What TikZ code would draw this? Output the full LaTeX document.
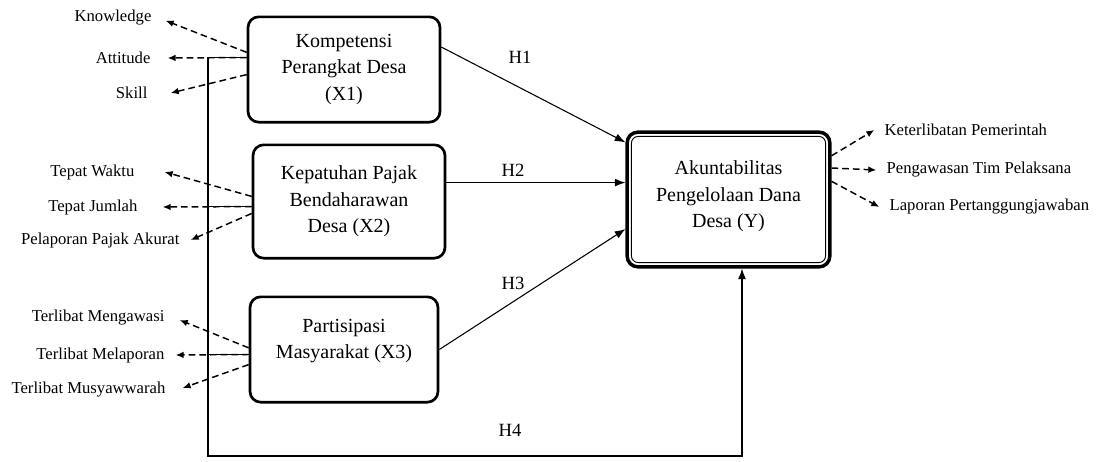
\documentclass[tikz,border=0pt]{standalone}
\usepackage{fontspec}
\setmainfont{Liberation Serif}
\usetikzlibrary{arrows.meta,calc}

\begin{document}
\begin{tikzpicture}[x=0.75pt,y=-0.75pt,
    varbox/.style={draw, line width=2pt, rounded corners=8pt, align=center, font=\fontsize{15}{20}\selectfont},
    indtext/.style={inner sep=1pt, font=\fontsize{12.5}{15}\selectfont},
    ind/.style={dash pattern=on 5pt off 3pt, line width=1.1pt, -{Latex[length=6pt,width=5pt]}},
    hyp/.style={line width=0.8pt, -{Latex[length=8pt,width=6pt]}},
    hlabel/.style={font=\fontsize{14}{16}\selectfont}]

    \useasboundingbox (0,0) rectangle (1098,461);

    % variables
    \draw (344,69.5)  node [varbox, minimum width=144pt, minimum height=79pt] (kom) {Kompetensi\\Perangkat Desa\\(X1)};
    \draw (349,201.5) node [varbox, minimum width=144pt, minimum height=85pt] (kep) {Kepatuhan Pajak\\Bendaharawan\\Desa (X2)};
    \draw (344,349.5) node [varbox, minimum width=141pt, minimum height=79pt] (par) {Partisipasi\\Masyarakat (X3)\\[-4pt]{}};
    \draw (728.5,199.5) node [varbox, line width=2.6pt, minimum width=152pt, minimum height=101pt] (akun) {Akuntabilitas\\Pengelolaan Dana\\Desa (Y)\\[-12pt]{}};
    \draw [line width=0.7pt, rounded corners=5pt] ($(akun.south west)+(6,-6)$) rectangle ($(akun.north east)+(-6,6)$);

    % indicators
    \draw (153,18)  node [indtext, anchor=east] (kn)  {Knowledge};
    \draw (152,58)  node [indtext, anchor=east] (at)  {Attitude};
    \draw (149,93)  node [indtext, anchor=east] (sk)  {Skill};
    \draw (136,172) node [indtext, anchor=east] (tw)  {Tepat Waktu};
    \draw (139,207) node [indtext, anchor=east] (tj)  {Tepat Jumlah};
    \draw (181,240) node [indtext, anchor=east] (pp)  {Pelaporan Pajak Akurat};
    \draw (166,318) node [indtext, anchor=east] (tm)  {Terlibat Mengawasi};
    \draw (166,355) node [indtext, anchor=east] (tl)  {Terlibat Melaporan};
    \draw (167,390) node [indtext, anchor=east] (tmu) {Terlibat Musyawwarah};
    \draw (883,130) node [indtext, anchor=west] (kp)  {Keterlibatan Pemerintah};
    \draw (885,170) node [indtext, anchor=west] (pt)  {Pengawasan Tim Pelaksana};
    \draw (888,207) node [indtext, anchor=west] (lp)  {Laporan Pertanggungjawaban};

    % hypotheses
    \coordinate (h4a) at (208,456);
    \coordinate (h4c) at (742,456);
    \draw [hyp] (kom.13) -- (akun.151);
    \draw [hyp] (kep.11) -- (kep.11 -| akun.west);
    \draw [hyp] (par.east) -- (akun.196);
    \draw [hyp] (kom.173) -| (h4a) -- (h4c) -- (h4c |- akun.south);
    \draw [line width=0.8pt] (kep.183) -- (kep.183 -| h4a);
    \draw [line width=0.8pt] (par.183) -- (par.183 -| h4a);
    \draw (520,57)  node [hlabel] (h1) {H1};
    \draw (513,170) node [hlabel] (h2) {H2};
    \draw (513,283) node [hlabel] (h3) {H3};
    \draw (510,430) node [hlabel] (h4) {H4};

    \draw [ind] (kom.170) -- ([xshift=9.5pt,yshift=-2pt]kn.east);
    \draw [ind] (kom.173) -- ([xshift=11.75pt]at.east);
    \draw [ind] (kom.183) -- ([xshift=16.25pt]sk.east);
    \draw [ind] (kep.177) -- ([xshift=21.5pt]tw.east);
    \draw [ind] (kep.183) -- ([xshift=17.75pt]tj.east);
    \draw [ind] (kep.187) -- ([xshift=7.25pt]pp.east);
    \draw [ind] (par.179) -- ([xshift=10.25pt,yshift=-1.5pt]tm.east);
    \draw [ind] (par.183) -- ([xshift=7.25pt]tl.east);
    \draw [ind] (par.189) -- ([xshift=11.75pt,yshift=1.5pt]tmu.east);
    \draw [ind] (akun.23) -- ([xshift=-6.5pt]kp.west);
    \draw [ind] (akun.17) -- ([xshift=-6.5pt]pt.west);
    \draw [ind] (akun.10) -- ([xshift=-6.5pt]lp.west);

\end{tikzpicture}
\end{document}
